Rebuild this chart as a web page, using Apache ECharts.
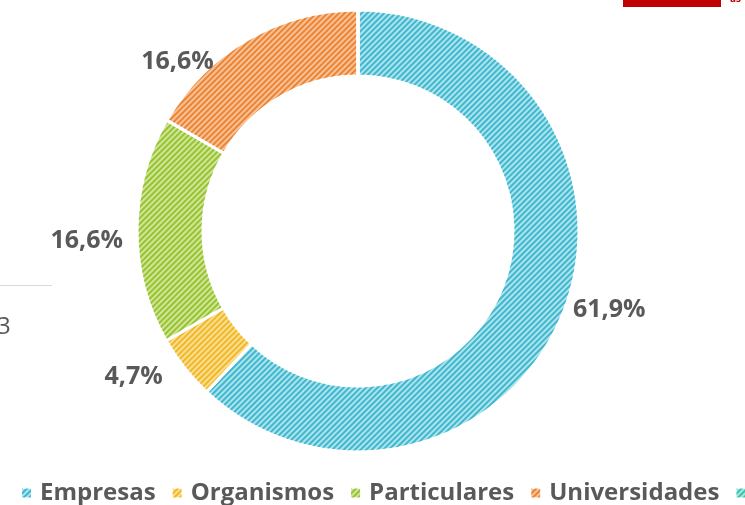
<!DOCTYPE html>
<html>
<head>
<meta charset="utf-8">
<script src="https://cdn.jsdelivr.net/npm/echarts@6/dist/echarts.min.js"></script>
<style>html,body{margin:0;padding:0;background:#fff;}#c{width:745px;height:505px;}</style>
</head>
<body>
<div id="c"></div>
<script>
const categories = ['Empresas', 'Organismos', 'Particulares', 'Universidades', 'Otros'];
const values = [61.9, 4.7, 16.6, 16.6, 0];
const baseColors = ['#ade3ed', '#fbde96', '#d0e697', '#f8c198', '#a8e6dc'];
const stripeColors = ['#3fb8ce', '#f0b924', '#97c232', '#ec8533', '#3cc2ae'];
const labelShift = [[0, -5], [-13, 5], [-4, 11], [-27, 28], [0, 0]];

const chart = echarts.init(document.getElementById('c'), null, {renderer: 'canvas'});
const fmt = v => v.toFixed(1).replace('.', ',') + '%';
const data = categories.map((n, i) => ({
  name: n,
  value: values[i],
  itemStyle: {
    color: baseColors[i],
    decal: {
      symbol: 'rect', symbolSize: 1, color: stripeColors[i],
      dashArrayX: [1, 0], dashArrayY: [2, 2], rotation: -Math.PI / 4
    }
  },
  label: {show: values[i] > 0}
}));

chart.setOption({
  animation: false,
  legend: {
    left: 15, bottom: -5, width: 2000, itemWidth: 11, itemHeight: 11, itemGap: 15,
    icon: 'rect',
    textStyle: {fontFamily: 'Open Sans', fontSize: 24, fontWeight: 'bold', color: '#595959', padding: [0, 0, 0, 3]},
    data: categories
  },
  series: [{
    type: 'pie',
    center: [358, 231],
    radius: [155, 221],
    startAngle: 90,
    clockwise: true,
    avoidLabelOverlap: false,
    itemStyle: {borderColor: '#fff', borderWidth: 3},
    label: {
      position: 'outside',
      formatter: p => fmt(p.value),
      fontFamily: 'Open Sans', fontSize: 25, fontWeight: 'bold', color: '#595959',
      distanceToLabelLine: 2
    },
    labelLine: {show: false, length: 6, length2: 2},
    labelLayout: p => ({dx: labelShift[p.dataIndex][0], dy: labelShift[p.dataIndex][1]}),
    data: data
  }],
  graphic: [
    {type: 'rect', shape: {x: 623, y: -2, width: 98, height: 9}, style: {fill: '#c00000'}},
    {type: 'text', style: {x: 730, y: -6, text: 'as', fill: '#c00000', font: 'bold 10px Open Sans'}},
    {type: 'line', shape: {x1: 0, y1: 285.5, x2: 52, y2: 285.5}, style: {stroke: '#d9d9d9', lineWidth: 1}},
    {type: 'text', style: {x: -3, y: 315, text: '3', fill: '#595959', font: '24px Open Sans'}}
  ]
});
</script>
</body>
</html>
